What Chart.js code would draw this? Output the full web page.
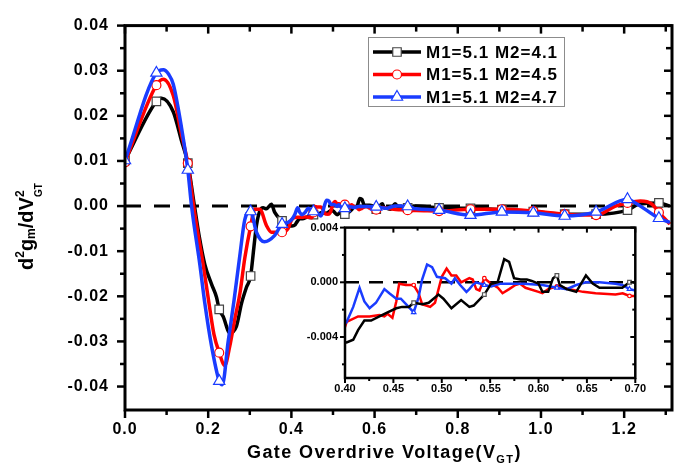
<!DOCTYPE html>
<html><head><meta charset="utf-8">
<script src="https://cdn.jsdelivr.net/npm/chart.js@4.4.0/dist/chart.umd.min.js"></script>
<style>
html,body{margin:0;padding:0;background:#fff;}
#wrap{position:relative;width:694px;height:469px;overflow:hidden;}
#main{position:absolute;left:0;top:0;}
#inset{position:absolute;left:290px;top:214px;}
</style></head><body>
<div id="wrap"><canvas id="main" width="694" height="469"></canvas><canvas id="inset" width="360" height="186"></canvas></div>
<script>
// ---------- data ----------
const seriesLabels = ['M1=5.1 M2=4.1', 'M1=5.1 M2=4.5', 'M1=5.1 M2=4.7'];

const blackX = [0,0.0755,0.088,0.116,0.136,0.151,0.167,0.178,0.192,0.208,0.220,0.2265,0.236,0.252,0.268,0.280,0.292,0.302,0.310,0.316,0.324,0.332,0.340,0.352,0.360,0.3775,0.392,
 0.4017,0.4085,0.4135,0.420,0.427,0.4356,0.444,0.453,0.459,0.466,0.471,0.480,0.4865,0.4966,0.5017,0.510,0.520,0.5285,0.533,0.544,0.551,0.5577,0.5645,0.5696,0.5747,0.5814,0.588,0.593,0.600,0.604,0.610,0.615,0.619,0.622,0.629,0.639,0.649,0.656,0.663,0.6795,0.6866,0.694,0.700,
 0.755,0.8305,0.906,0.9815,1.057,1.1325,1.208,1.235,1.2835,1.310];
const blackY = [0.0101,0.0232,0.0239,0.0209,0.0144,0.0095,0.0000,-0.0065,-0.0130,-0.0173,-0.0202,-0.0229,-0.0245,-0.0281,-0.0266,-0.0216,-0.0180,-0.0155,-0.0090,-0.0043,-0.0011,-0.0004,-0.0006,0.0004,-0.0014,-0.0033,-0.0043,
 -0.0044,-0.0042,-0.0035,-0.0028,-0.0028,-0.0025,-0.0022,-0.0019,-0.0018,-0.0018,-0.0015,-0.0016,-0.0015,-0.0009,-0.0012,-0.0019,-0.0013,-0.0018,-0.0017,-0.0009,-0.0001,0.0000,0.0017,0.0015,0.0003,0.0002,0.0002,0.0001,-0.0001,-0.0007,-0.0007,0.0003,0.0005,-0.0002,-0.0005,-0.0007,0.0005,-0.0001,-0.0004,-0.0004,-0.0004,0.0000,0.0000,
 -0.0004,-0.0005,-0.0008,-0.0012,-0.0018,-0.0018,-0.0009,0.0004,0.0007,0.0000];

const redX = [0,0.0755,0.092,0.116,0.136,0.151,0.165,0.176,0.188,0.202,0.214,0.2265,0.240,0.252,0.264,0.276,0.288,0.302,0.312,0.324,0.340,0.352,0.3775,0.392,
 0.4017,0.4135,0.4254,0.4356,0.4407,0.444,0.449,0.453,0.456,0.4628,0.471,0.476,0.4797,0.488,0.493,0.500,0.505,0.510,0.515,0.520,0.5285,0.532,0.5356,0.539,0.544,0.551,0.558,0.5628,0.5696,0.576,0.581,0.5865,0.600,0.604,0.610,0.619,0.632,0.646,0.659,0.6795,0.687,0.694,0.700,
 0.755,0.8305,0.906,0.9815,1.057,1.1325,1.179,1.208,1.239,1.267,1.2835,1.310];
const redY = [0.0097,0.0268,0.0281,0.0245,0.0158,0.0095,0.0000,-0.0065,-0.0130,-0.0216,-0.0285,-0.0325,-0.0353,-0.0310,-0.0250,-0.0195,-0.0115,-0.0045,-0.0007,-0.0007,-0.0043,-0.0058,-0.0058,-0.0050,
 -0.0029,-0.0025,-0.0025,-0.0024,-0.0025,-0.0023,-0.0026,-0.0014,-0.0001,-0.0002,-0.0002,-0.0008,-0.0016,-0.0018,-0.0015,0.0004,0.0010,0.0005,0.0005,0.0000,0.0003,0.0002,-0.0005,-0.0006,0.0003,-0.0001,-0.0004,-0.0008,-0.0005,-0.0002,-0.0001,-0.0004,-0.0007,-0.0008,-0.0005,-0.0003,-0.0005,-0.0007,-0.0008,-0.0009,-0.0008,-0.0010,-0.0010,
 -0.0011,-0.0007,-0.0007,-0.0011,-0.0018,-0.0020,0.0000,0.0007,0.0011,0.0004,-0.0014,-0.0040];

const blueX = [0,0.0755,0.092,0.105,0.116,0.136,0.151,0.160,0.180,0.192,0.208,0.2265,0.234,0.248,0.262,0.276,0.288,0.302,0.316,0.335,0.360,0.3775,0.392,
 0.4017,0.4085,0.415,0.420,0.4254,0.432,0.4407,0.4458,0.453,0.4577,0.4645,0.471,0.476,0.4797,0.4848,0.490,0.495,0.5035,0.510,0.5136,0.519,0.5255,0.5285,0.532,0.5356,0.544,0.551,0.561,0.5712,0.585,0.604,0.619,0.629,0.639,0.649,0.663,0.6795,0.6866,0.694,0.700,
 0.755,0.8305,0.906,0.9815,1.057,1.1325,1.208,1.227,1.2835,1.310];
const blueY = [0.0101,0.0295,0.0302,0.0292,0.0270,0.0173,0.0080,0.0000,-0.0130,-0.0216,-0.0310,-0.0388,-0.0396,-0.0300,-0.0210,-0.0110,-0.0030,-0.0012,-0.0058,-0.0079,-0.0065,-0.0040,-0.0036,
 -0.0029,-0.0018,-0.0004,-0.0014,-0.0019,-0.0015,-0.0005,-0.0008,-0.0012,-0.0012,-0.0017,-0.0022,-0.0011,0.0002,0.0013,0.0011,0.0004,0.0003,-0.0001,0.0003,-0.0002,-0.0007,-0.0005,-0.0002,0.0000,-0.0002,-0.0003,-0.0001,-0.0001,-0.0001,-0.0002,-0.0004,-0.0005,-0.0002,0.0000,0.0000,-0.0001,-0.0002,-0.0005,-0.0006,
 -0.0009,-0.0020,-0.0013,-0.0015,-0.0022,-0.0013,0.0015,0.0007,-0.0027,-0.0036];

// x positions carrying symbols
const markerX = [0,0.0755,0.151,0.2265,0.302,0.3775,0.453,0.5285,0.604,0.6795,0.755,0.8305,0.906,0.9815,1.057,1.1325,1.208,1.2835];
const insetMarkerX = [0.471,0.544,0.619,0.694];

const zeroLineX = [0, 1.31];
const zeroLineInsetX = [0.40, 0.70];

// ticks
const xTicksMain = [0,0.2,0.4,0.6,0.8,1.0,1.2];
const xMinorMain = [0.1,0.3,0.5,0.7,0.9,1.1,1.3];
const yTicksMain = [-0.04,-0.03,-0.02,-0.01,0,0.01,0.02,0.03,0.04];
const yMinorMain = [-0.035,-0.025,-0.015,-0.005,0.005,0.015,0.025,0.035];
const xTicksInset = [0.40,0.45,0.50,0.55,0.60,0.65,0.70];
const xMinorInset = [0.425,0.475,0.525,0.575,0.625,0.675];
const yTicksInset = [-0.004,0,0.004];
const yMinorInset = [-0.006,-0.002,0.002];

// ---------- styling ----------
const BLACK = '#000000', RED = '#ff0000', BLUE = '#1a3cff';
const FAM = '"Liberation Sans", Arial, Helvetica, sans-serif';
const mk = (xs, ys) => xs.map((x, i) => ({x: x, y: ys[i]}));
const near = (v, arr) => arr.some(a => Math.abs(a - v) < 1e-6);
const fmt = d => v => Number(v).toFixed(d);

function series(label, xs, ys, color, mcolor, style, r, marks, lw, order, smooth) {
  return {
    label: label, data: mk(xs, ys), borderColor: color, borderWidth: lw,
    pointStyle: style,
    pointRadius: c => (c.raw && near(c.raw.x, marks)) ? r : 0,
    pointHoverRadius: 0,
    pointBackgroundColor: '#ffffff', pointBorderColor: mcolor, pointBorderWidth: 1.2,
    cubicInterpolationMode: smooth ? 'monotone' : 'default', tension: 0,
    fill: false, order: order
  };
}

function framePlugin(o) {
  return {
    id: 'frame' + o.id,
    beforeDraw(chart) { chart.ctx.letterSpacing = o.ls; },
    afterDatasetsDraw(chart) {
      const ctx = chart.ctx, a = chart.chartArea, x = chart.scales.x, y = chart.scales.y;
      ctx.save();
      ctx.strokeStyle = '#000'; ctx.lineCap = 'butt';
      const seg = (x1, y1, x2, y2) => { ctx.beginPath(); ctx.moveTo(x1, y1); ctx.lineTo(x2, y2); ctx.stroke(); };
      ctx.lineWidth = o.tw;
      const doX = (vals, outL, inL) => vals.forEach(v => { const p = x.getPixelForValue(v); seg(p, a.bottom, p, a.bottom + outL); seg(p, a.top, p, a.top + inL); });
      const doY = (vals, outL, inL) => vals.forEach(v => { const p = y.getPixelForValue(v); seg(a.left, p, a.left - outL, p); seg(a.right, p, a.right - inL, p); });
      doX(o.xMaj, o.maj, o.majIn); doX(o.xMin, o.min, o.minIn);
      doY(o.yMaj, o.maj, o.majIn); doY(o.yMin, o.min, o.minIn);
      ctx.lineWidth = o.lw;
      ctx.strokeRect(a.left, a.top, a.right - a.left, a.bottom - a.top);
      ctx.restore();
    }
  };
}

function drawMarker(ctx, style, x, y, r, color) {
  ctx.save();
  ctx.fillStyle = '#fff'; ctx.strokeStyle = color; ctx.lineWidth = 1.2;
  ctx.beginPath();
  if (style === 'rect') { const s = r * Math.SQRT1_2; ctx.rect(x - s, y - s, 2 * s, 2 * s); }
  else if (style === 'circle') { ctx.arc(x, y, r, 0, Math.PI * 2); }
  else { const h = r; ctx.moveTo(x, y - h); ctx.lineTo(x + h * Math.sin(Math.PI / 3), y + h / 2); ctx.lineTo(x - h * Math.sin(Math.PI / 3), y + h / 2); ctx.closePath(); }
  ctx.fill(); ctx.stroke();
  ctx.restore();
}

const decoPlugin = {
  id: 'deco',
  afterDraw(chart) {
    const ctx = chart.ctx;
    ctx.save();
    ctx.fillStyle = '#000';
    // legend
    ctx.letterSpacing = '0px';
    ctx.strokeStyle = '#8c8c8c'; ctx.lineWidth = 1;
    ctx.strokeRect(368.5, 37.5, 196, 69);
    const rows = [
      {label: seriesLabels[0], color: BLACK, mcolor: '#444', style: 'rect', r: 6},
      {label: seriesLabels[1], color: RED, mcolor: RED, style: 'circle', r: 4.5},
      {label: seriesLabels[2], color: BLUE, mcolor: BLUE, style: 'triangle', r: 6.5}
    ];
    const ys = [52, 74.5, 97];
    rows.forEach((r, i) => {
      ctx.strokeStyle = r.color; ctx.lineWidth = 3.5;
      ctx.beginPath(); ctx.moveTo(373, ys[i]); ctx.lineTo(421, ys[i]); ctx.stroke();
      drawMarker(ctx, r.style, 397, ys[i], r.r, r.mcolor);
      ctx.fillStyle = '#000';
      ctx.letterSpacing = '1px';
      ctx.font = 'bold 17px ' + FAM;
      ctx.textAlign = 'left'; ctx.textBaseline = 'middle';
      ctx.fillText(r.label, 426, ys[i] + 1);
      ctx.letterSpacing = '0px';
    });
    // x title
    ctx.textBaseline = 'alphabetic'; ctx.textAlign = 'left';
    ctx.letterSpacing = '1.4px';
    let x = 247;
    const s1 = 'Gate Overdrive Voltage(V';
    ctx.font = 'bold 18px ' + FAM; ctx.fillText(s1, x, 458); x += ctx.measureText(s1).width;
    ctx.font = 'bold 11px ' + FAM; ctx.fillText('GT', x, 463); x += ctx.measureText('GT').width;
    ctx.font = 'bold 18px ' + FAM; ctx.fillText(')', x, 458);
    // y title
    ctx.letterSpacing = '0px';
    ctx.translate(33, 270); ctx.rotate(-Math.PI / 2);
    let px = 0;
    const put = (t, size, dy, adv) => { ctx.font = 'bold ' + size + 'px ' + FAM; ctx.fillText(t, px, dy); const w = ctx.measureText(t).width; if (adv) px += w; return w; };
    put('d', 20, 0, true);
    put('2', 12, -9, true);
    put('g', 20, 0, true);
    put('m', 12, 2, true);
    put('/dV', 20, 0, true);
    const w1 = put('2', 12, -9, false);
    const w2 = put('GT', 10, 9, false);
    px += Math.max(w1, w2);
    ctx.restore();
  }
};

const mainFont = {family: FAM, size: 16, weight: 'bold'};

new Chart(document.getElementById('main'), {
  type: 'line',
  data: { datasets: [
    series(seriesLabels[2], blueX, blueY, BLUE, BLUE, 'triangle', 6.5, markerX, 3.5, 1, true),
    series(seriesLabels[1], redX, redY, RED, RED, 'circle', 4.5, markerX, 3.5, 2, true),
    series(seriesLabels[0], blackX, blackY, BLACK, '#444', 'rect', 6, markerX, 3.5, 3, true),
    { label: 'zero', data: zeroLineX.map(v => ({x: v, y: 0})), borderColor: '#000', borderWidth: 3, borderDash: [16, 13], pointRadius: 0, order: 4 }
  ]},
  options: {
    responsive: false, animation: false, events: [],
    layout: {padding: {left: 0, right: 22, top: 14, bottom: 0}},
    plugins: {legend: {display: false}, tooltip: {enabled: false}},
    scales: {
      x: { type: 'linear', min: 0, max: 1.315,
        afterBuildTicks: s => { s.ticks = xTicksMain.map(v => ({value: v})); },
        afterFit: s => { s.height = 59; },
        grid: {display: false, drawTicks: false}, border: {display: false},
        ticks: {callback: fmt(1), font: mainFont, color: '#000', padding: 10, autoSkip: false, maxRotation: 0} },
      y: { type: 'linear', min: -0.0452, max: 0.04,
        afterBuildTicks: s => { s.ticks = yTicksMain.map(v => ({value: v})); },
        afterFit: s => { s.width = 125; },
        grid: {display: false, drawTicks: false}, border: {display: false},
        ticks: {callback: fmt(2), font: mainFont, color: '#000', padding: 16, autoSkip: false} }
    }
  },
  plugins: [framePlugin({id: 'm', ls: '1px', lw: 3, tw: 2.5, maj: 8, min: 5, majIn: 8, minIn: 6,
    xMaj: xTicksMain, xMin: xMinorMain, yMaj: yTicksMain, yMin: yMinorMain}), decoPlugin]
});

const insetFont = {family: FAM, size: 11, weight: 'bold'};
new Chart(document.getElementById('inset'), {
  type: 'line',
  data: { datasets: [
    series(seriesLabels[2], blueX, blueY, BLUE, BLUE, 'triangle', 2.6, insetMarkerX, 2.5, 1, false),
    series(seriesLabels[1], redX, redY, RED, RED, 'circle', 1.8, insetMarkerX, 2.5, 2, false),
    series(seriesLabels[0], blackX, blackY, BLACK, '#555', 'rect', 2.6, insetMarkerX, 2.5, 0, false),
    { label: 'zero', data: zeroLineInsetX.map(v => ({x: v, y: 0})), borderColor: '#000', borderWidth: 2.5, borderDash: [14, 10], pointRadius: 0, order: 4 }
  ]},
  options: {
    responsive: false, animation: false, events: [],
    layout: {padding: {left: 0, right: 10, top: 10, bottom: 0}},
    plugins: {legend: {display: false}, tooltip: {enabled: false}},
    scales: {
      x: { type: 'linear', min: 0.40, max: 0.70,
        afterBuildTicks: s => { s.ticks = xTicksInset.map(v => ({value: v})); },
        afterFit: s => { s.height = 22; },
        grid: {display: false, drawTicks: false}, border: {display: false},
        ticks: {callback: fmt(2), font: insetFont, color: '#000', padding: 4, autoSkip: false, maxRotation: 0} },
      y: { type: 'linear', min: -0.007, max: 0.004,
        afterBuildTicks: s => { s.ticks = yTicksInset.map(v => ({value: v})); },
        afterFit: s => { s.width = 55; },
        grid: {display: false, drawTicks: false}, border: {display: false},
        ticks: {callback: fmt(3), font: insetFont, color: '#000', padding: 7, autoSkip: false} }
    }
  },
  plugins: [framePlugin({id: 'i', ls: '0px', lw: 2.5, tw: 2, maj: 5, min: 3, majIn: 5, minIn: 3,
    xMaj: xTicksInset, xMin: xMinorInset, yMaj: yTicksInset, yMin: yMinorInset})]
});
</script>
</body></html>
